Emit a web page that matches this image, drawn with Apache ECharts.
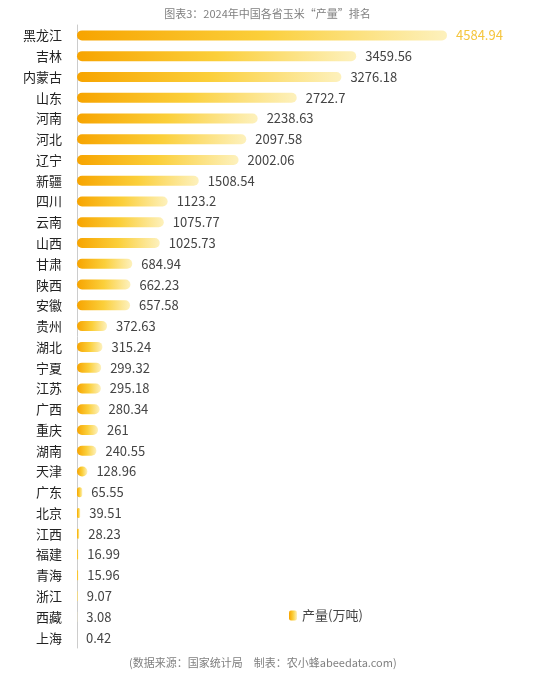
<!DOCTYPE html>
<html>
<head>
<meta charset="utf-8">
<script src="https://cdn.jsdelivr.net/npm/echarts@6/dist/echarts.min.js"></script>
<style>
html,body{margin:0;padding:0;background:#fff;}
#c{width:535px;height:677px;}
</style>
</head>
<body>
<div id="c"></div>
<script>
const categories = ["黑龙江","吉林","内蒙古","山东","河南","河北","辽宁","新疆","四川","云南","山西","甘肃","陕西","安徽","贵州","湖北","宁夏","江苏","广西","重庆","湖南","天津","广东","北京","江西","福建","青海","浙江","西藏","上海"];
const values = [4584.94,3459.56,3276.18,2722.7,2238.63,2097.58,2002.06,1508.54,1123.2,1075.77,1025.73,684.94,662.23,657.58,372.63,315.24,299.32,295.18,280.34,261,240.55,128.96,65.55,39.51,28.23,16.99,15.96,9.07,3.08,0.42];
const seriesName = "产量(万吨)";
const titleText = "图表3：2024年中国各省玉米“产量”排名";
const footerText = "(数据来源：国家统计局　制表：农小蜂abeedata.com)";

const chart = echarts.init(document.getElementById('c'));
const maxV = Math.max(...values);
const grad = new echarts.graphic.LinearGradient(0,0,1,0,[
  {offset:0,color:'#f7a400'},
  {offset:0.5,color:'#fbcf3a'},
  {offset:1,color:'#fdf1bd'}
]);
chart.setOption({
  backgroundColor:'#fff',
  title:[{text:titleText,left:'center',top:3,textStyle:{fontSize:11,fontWeight:'normal',color:'#808080',fontFamily:'Noto Sans CJK SC'}},
         {text:footerText,left:124,top:652,textStyle:{fontSize:11,fontWeight:'normal',color:'#808080',fontFamily:'Noto Sans CJK SC'}}],
  legend:{data:[seriesName],left:284,top:604,itemWidth:8,itemHeight:10,itemGap:4,textStyle:{fontSize:13,color:'#444',fontFamily:'Noto Sans CJK SC'}},
  grid:{left:77,width:370,top:25,height:623,containLabel:false},
  xAxis:{type:'value',min:0,max:maxV,show:false},
  yAxis:{type:'category',data:categories,inverse:true,
    axisLine:{show:true,lineStyle:{color:'#ccc'}},axisTick:{show:false},
    axisLabel:{fontSize:13,color:'#222',margin:15,fontFamily:'Noto Sans CJK SC'}},
  series:[{name:seriesName,type:'bar',data:values.map((v,i)=>({value:v,label:i===0?{color:'#f5c53d'}:{}})),barWidth:10,
    itemStyle:{color:grad,borderRadius:5},
    label:{show:true,position:'right',distance:9,fontSize:13,color:'#444',fontFamily:'Noto Sans CJK SC'}}]
});
</script>
</body>
</html>
